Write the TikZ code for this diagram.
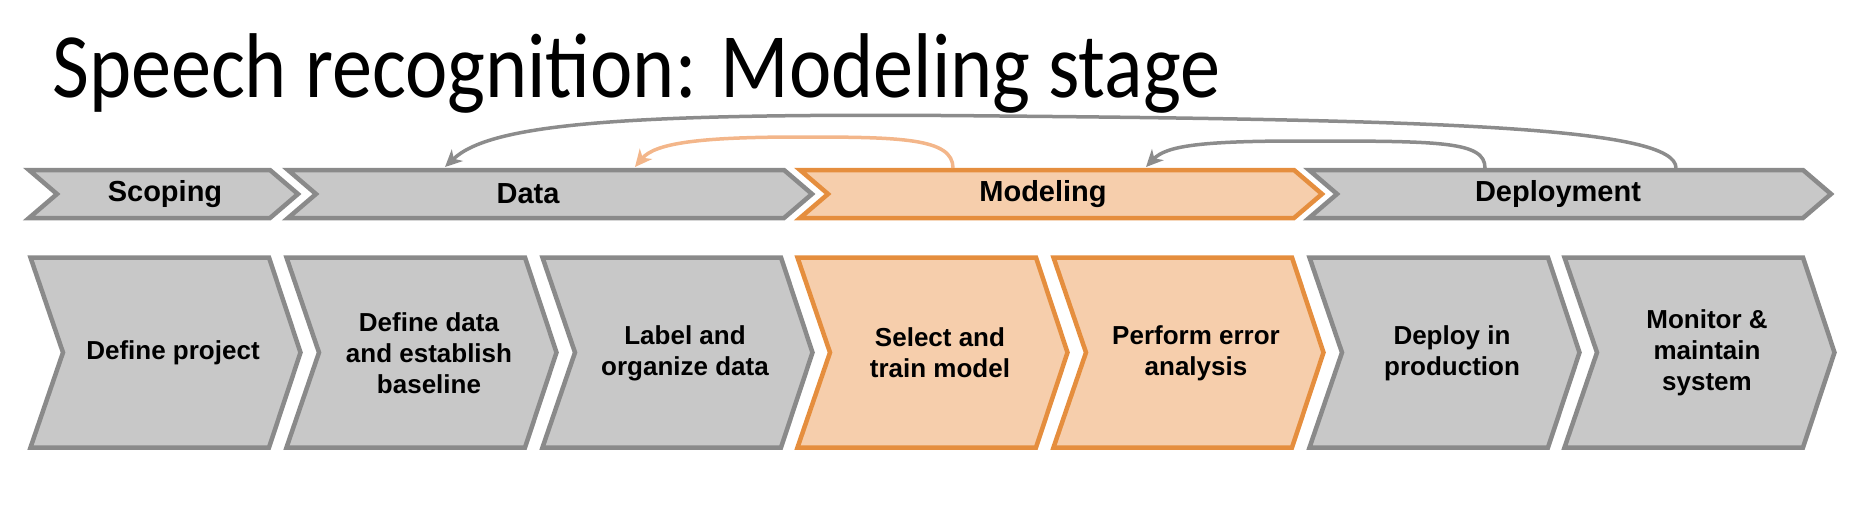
\documentclass[tikz,border=0pt]{standalone}
\usepackage{fontspec}
\setmainfont{Liberation Sans}
\newfontfamily\titlefont[FakeStretch=0.872]{Carlito}
\usetikzlibrary{arrows.meta}
\definecolor{gfill}{RGB}{200,200,200}
\definecolor{gline}{RGB}{138,138,138}
\definecolor{ofill}{RGB}{246,206,172}
\definecolor{oline}{RGB}{229,142,62}
\definecolor{oarrowc}{RGB}{243,182,138}
\definecolor{garrowc}{RGB}{140,140,140}
\newcommand{\topchev}[3]{\path[#1] ({#2+2},170) -- ({#3-30},170) -- ({#3-2},194) -- ({#3-30},218) -- ({#2+2},218) -- ({#2+30},194) -- cycle;}
\newcommand{\botchev}[2]{\path[#1] ({#2+2.5},257.5) -- ({#2+241},257.5) -- ({#2+272.5},352.5) -- ({#2+241},447.5) -- ({#2+2.5},447.5) -- ({#2+35},352.5) -- cycle;}
\begin{document}
\begin{tikzpicture}[x=1pt,y=-1pt,
  graybox/.style={fill=gfill,draw=gline,line width=4.5pt,line join=miter},
  orangebox/.style={fill=ofill,draw=oline,line width=4.5pt,line join=miter},
  toplabel/.style={font=\bfseries\fontsize{29}{33}\selectfont,inner sep=0pt},
  botlabel/.style={font=\bfseries\fontsize{26}{31}\selectfont,align=center,inner sep=0pt},
  backarrow/.style={line width=3.5pt,-{Stealth[length=17pt,width=16pt,inset=5pt]}},
]
\useasboundingbox (0,0) rectangle (1850,520);

% title
\node[anchor=base west,inner sep=0pt,font=\titlefont\fontsize{92}{92}\selectfont] (title) at (52,97) {Speech recognition: Modeling stage};

% top row of phases
\topchev{graybox}{27}{300}
\topchev{graybox}{286}{814}
\topchev{orangebox}{798}{1324}
\topchev{graybox}{1307}{1833}
\node[toplabel] (scoping) at (165,194) {Scoping};
\node[toplabel] (data) at (528,194) {Data};
\node[toplabel] (modeling) at (1043,194) {Modeling};
\node[toplabel] (deployment) at (1558,194) {Deployment};

% bottom row of steps
\botchev{graybox}{28}
\botchev{graybox}{284}
\botchev{graybox}{540}
\botchev{orangebox}{795}
\botchev{orangebox}{1051}
\botchev{graybox}{1307}
\botchev{graybox}{1562}
\node[botlabel] (s1) at (173,353) {Define project};
\node[botlabel] (s2) at (429,353) {Define data\\and establish\\baseline};
\node[botlabel] (s3) at (685,353) {Label and\\organize data};
\node[botlabel] (s4) at (940,353) {Select and\\train model};
\node[botlabel] (s5) at (1196,353) {Perform error\\analysis};
\node[botlabel] (s6) at (1452,353) {Deploy in\\production};
\node[botlabel] (s7) at (1707,353) {Monitor \&\\maintain\\system};

% feedback arrows
\coordinate (depA) at (1676,168);
\coordinate (depB) at (1485,168);
\coordinate (modA) at (953,168);
\coordinate (dataA) at (445,167);
\coordinate (dataB) at (635,167);
\coordinate (modB) at (1146,167);
\draw[backarrow,garrowc] (depA) .. controls (1676,128) and (1450,120) .. (1000,116) .. controls (620,112) and (490,124) .. (dataA);
\draw[backarrow,garrowc] (depB) .. controls (1485,141) and (1440,141) .. (1300,141) .. controls (1200,141) and (1166,146) .. (modB);
\draw[backarrow,oarrowc] (modA) .. controls (953,138) and (900,137) .. (800,137) .. controls (700,137) and (655,143) .. (dataB);
\end{tikzpicture}
\end{document}
